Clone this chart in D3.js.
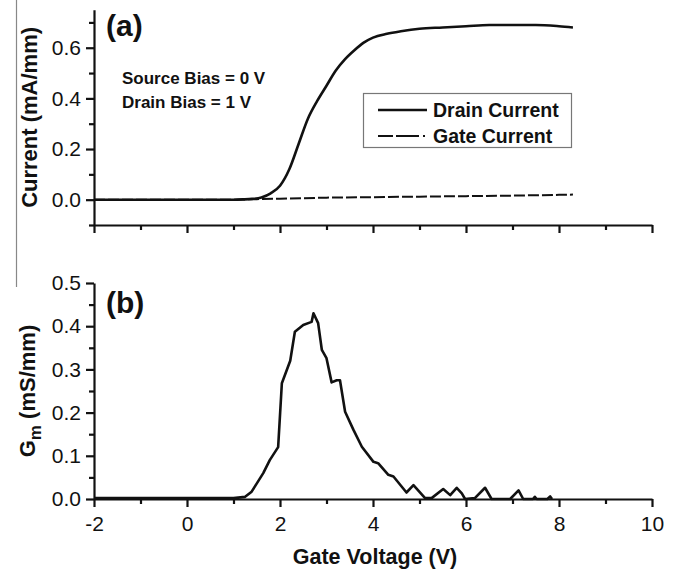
<!DOCTYPE html>
<html>
<head>
<meta charset="utf-8">
<script src="https://cdnjs.cloudflare.com/ajax/libs/d3/7.8.5/d3.min.js"></script>
<style>
  body { margin: 0; background: #fff; }
  svg text { font-family: "Liberation Sans", Arial, sans-serif; fill: #111; }
</style>
</head>
<body>
<svg id="chart" width="678" height="571"></svg>
<script>
// panel (a): drain and gate current vs gate voltage
const vDrain = [-2, 0, 1.0, 1.2, 1.4, 1.6, 1.8, 2.0, 2.2, 2.4, 2.6, 2.8, 3.0, 3.2, 3.4, 3.6, 3.8, 4.0, 4.3, 4.6, 5.0, 5.5, 6.0, 6.5, 7.0, 7.5, 8.0, 8.3];
const iDrain = [0, 0, 0, 0.001, 0.003, 0.009, 0.025, 0.055, 0.12, 0.22, 0.32, 0.39, 0.45, 0.51, 0.555, 0.59, 0.62, 0.64, 0.655, 0.665, 0.675, 0.68, 0.685, 0.69, 0.69, 0.69, 0.685, 0.68];

const vGate = [-2, 0, 1.0, 1.5, 2.0, 3.0, 4.0, 5.0, 6.0, 7.0, 8.0, 8.3];
const iGate = [0, 0, 0, 0.002, 0.004, 0.008, 0.01, 0.012, 0.014, 0.016, 0.019, 0.02];

// panel (b): transconductance
const vGm = [-2, 0, 1.0, 1.25, 1.39, 1.64, 1.78, 1.96, 2.04, 2.22, 2.32, 2.50, 2.68, 2.72, 2.82, 2.90, 3.0, 3.11, 3.22, 3.29, 3.40, 3.58, 3.76, 4.01, 4.11, 4.33, 4.44, 4.72, 4.87, 5.12, 5.26, 5.51, 5.66, 5.80, 5.91, 5.98, 6.19, 6.41, 6.55, 6.95, 7.13, 7.23, 7.44, 7.48, 7.52, 7.75, 7.81, 7.85];
const gm = [0.002, 0.002, 0.002, 0.005, 0.017, 0.06, 0.09, 0.12, 0.268, 0.32, 0.387, 0.403, 0.41, 0.43, 0.407, 0.345, 0.326, 0.27, 0.275, 0.275, 0.202, 0.16, 0.121, 0.086, 0.083, 0.056, 0.052, 0.015, 0.032, 0.002, 0.002, 0.023, 0.009, 0.026, 0.013, 0, 0.002, 0.026, 0, 0, 0.02, 0, 0, 0.005, 0, 0, 0.006, 0];

const xTicks = [-2, 0, 2, 4, 6, 8, 10];
const xMinor = [-1, 1, 3, 5, 7, 9];
const yTicksA = [0, 0.2, 0.4, 0.6];
const yMinorA = [-0.1, 0.1, 0.3, 0.5, 0.7];
const yTicksB = [0, 0.1, 0.2, 0.3, 0.4, 0.5];
const yMinorB = [0.05, 0.15, 0.25, 0.35, 0.45];

const svg = d3.select("#chart");

const x = d3.scaleLinear().domain([-2, 10]).range([94, 652]);
const yA = d3.scaleLinear().domain([-0.1, 0.75]).range([225, 9.75]);
const yB = d3.scaleLinear().domain([0, 0.5]).range([499, 283]);

// stray frame line at the left edge of the original figure
svg.append("line")
    .attr("x1", 16.5).attr("x2", 16.5)
    .attr("y1", 0).attr("y2", 287)
    .attr("stroke", "#888")
    .attr("stroke-width", 1.2);

function styleAxis(g) {
    g.selectAll(".domain").attr("stroke", "#111").attr("stroke-width", 2.2);
    g.selectAll(".tick line").attr("stroke", "#111").attr("stroke-width", 2.2);
    g.selectAll(".tick text").style("font-size", "21px").style("fill", "#111");
}

function drawAxes(yScale, yTicks, yMinor, xBase, withLabels) {
    // minor ticks first
    svg.append("g")
        .attr("transform", `translate(0,${xBase})`)
        .call(d3.axisBottom(x).tickValues(xMinor).tickSize(5).tickFormat(""))
        .call(styleAxis)
        .select(".domain").remove();
    svg.append("g")
        .attr("transform", `translate(${x(-2)},0)`)
        .call(d3.axisLeft(yScale).tickValues(yMinor).tickSize(5).tickFormat(""))
        .call(styleAxis)
        .select(".domain").remove();

    const gx = svg.append("g")
        .attr("transform", `translate(0,${xBase})`)
        .call(d3.axisBottom(x).tickValues(xTicks).tickSize(8).tickSizeOuter(0).tickPadding(9)
            .tickFormat(withLabels ? d3.format("d") : ""))
        .call(styleAxis);
    gx.selectAll(".tick text").text(d => withLabels ? (d < 0 ? "-" + Math.abs(d) : d) : "");

    svg.append("g")
        .attr("transform", `translate(${x(-2)},0)`)
        .call(d3.axisLeft(yScale).tickValues(yTicks).tickSize(8).tickSizeOuter(0).tickPadding(5)
            .tickFormat(d3.format(".1f")))
        .call(styleAxis);
}

drawAxes(yA, yTicksA, yMinorA, yA(-0.1), false);
drawAxes(yB, yTicksB, yMinorB, yB(0), true);

// curves
const lineA = (xs, ys) => d3.line().x((d, i) => x(xs[i])).y(d => yA(d))(ys);

svg.append("path")
    .attr("d", lineA(vGate, iGate))
    .attr("fill", "none")
    .attr("stroke", "#111")
    .attr("stroke-width", 2)
    .attr("stroke-dasharray", "11,3");

svg.append("path")
    .attr("d", d3.line().curve(d3.curveMonotoneX).x((d, i) => x(vDrain[i])).y(d => yA(d))(iDrain))
    .attr("fill", "none")
    .attr("stroke", "#111")
    .attr("stroke-width", 2.6);

svg.append("path")
    .attr("d", d3.line().x((d, i) => x(vGm[i])).y(d => yB(d))(gm))
    .attr("fill", "none")
    .attr("stroke", "#111")
    .attr("stroke-width", 2.6)
    .attr("stroke-linejoin", "round");

// panel labels and annotations
svg.append("text").attr("x", 106).attr("y", 36)
    .style("font-size", "30px").style("font-weight", "bold").text("(a)");
svg.append("text").attr("x", 106).attr("y", 313)
    .style("font-size", "30px").style("font-weight", "bold").text("(b)");

svg.append("text").attr("x", 122).attr("y", 84)
    .style("font-size", "17px").style("font-weight", "bold").text("Source Bias = 0 V");
svg.append("text").attr("x", 122).attr("y", 108)
    .style("font-size", "17px").style("font-weight", "bold").text("Drain Bias = 1 V");

// legend
const legend = svg.append("g");
legend.append("rect")
    .attr("x", 363.5).attr("y", 93.5)
    .attr("width", 208).attr("height", 54)
    .attr("fill", "#fff")
    .attr("stroke", "#777")
    .attr("stroke-width", 1.2);
const legendItems = [
    { name: "Drain Current", dash: null, y: 110 },
    { name: "Gate Current", dash: "15,3,23,4,2,3", y: 136 }
];
legendItems.forEach(it => {
    legend.append("line")
        .attr("x1", 378).attr("x2", 427)
        .attr("y1", it.y).attr("y2", it.y)
        .attr("stroke", "#111")
        .attr("stroke-width", it.dash ? 2 : 2.6)
        .attr("stroke-dasharray", it.dash);
    legend.append("text")
        .attr("x", 433).attr("y", it.y + 7)
        .style("font-size", "19.5px").style("font-weight", "bold")
        .text(it.name);
});

// axis titles
svg.append("text")
    .attr("transform", `translate(37,${yA(0.325)}) rotate(-90)`)
    .attr("text-anchor", "middle")
    .style("font-size", "22px").style("font-weight", "bold")
    .text("Current (mA/mm)");

const gmTitle = svg.append("text")
    .attr("transform", `translate(35,${yB(0.25)}) rotate(-90)`)
    .attr("text-anchor", "middle")
    .style("font-size", "22px").style("font-weight", "bold");
gmTitle.append("tspan").text("G");
gmTitle.append("tspan").attr("dy", 6).style("font-size", "17px").text("m");
gmTitle.append("tspan").attr("dy", -6).text(" (mS/mm)");

svg.append("text")
    .attr("x", 375).attr("y", 564)
    .attr("text-anchor", "middle")
    .style("font-size", "21.5px").style("font-weight", "bold")
    .text("Gate Voltage (V)");
</script>
</body>
</html>
